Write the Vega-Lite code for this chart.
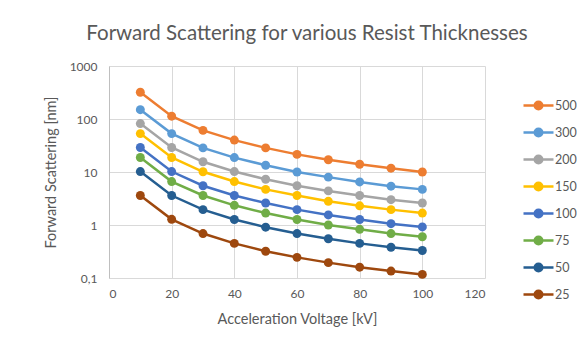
{
  "$schema": "https://vega.github.io/schema/vega-lite/v6.json",
  "autosize": "none",
  "width": 376,
  "height": 212,
  "padding": {"left": 109, "top": 66, "right": 93, "bottom": 65},
  "background": "white",
  "title": {
    "text": "Forward Scattering for various Resist Thicknesses",
    "font": "Lato",
    "fontSize": 20.5,
    "fontWeight": "normal",
    "color": "#595959",
    "anchor": "middle",
    "dx": 10,
    "offset": 16
  },
  "config": {
    "view": {"stroke": null},
    "axis": {
      "labelFont": "Lato",
      "titleFont": "Lato",
      "labelColor": "#595959",
      "titleColor": "#595959",
      "labelFontSize": 12,
      "titleFontSize": 14.5,
      "titleFontWeight": "normal",
      "gridColor": "#d9d9d9",
      "domainColor": "#d9d9d9",
      "tickSize": 0,
      "ticks": false
    },
    "legend": {"labelFont": "Lato", "labelFontSize": 12.5, "labelColor": "#595959"}
  },
  "data": {
    "values": [
      {"kV": 10, "t": "500", "s": 320}, {"kV": 20, "t": "500", "s": 113}, {"kV": 30, "t": "500", "s": 61}, {"kV": 40, "t": "500", "s": 40}, {"kV": 50, "t": "500", "s": 28.5}, {"kV": 60, "t": "500", "s": 21.5}, {"kV": 70, "t": "500", "s": 17}, {"kV": 80, "t": "500", "s": 14}, {"kV": 90, "t": "500", "s": 11.8}, {"kV": 100, "t": "500", "s": 10},
      {"kV": 10, "t": "300", "s": 150}, {"kV": 20, "t": "300", "s": 53}, {"kV": 30, "t": "300", "s": 28.5}, {"kV": 40, "t": "300", "s": 18.7}, {"kV": 50, "t": "300", "s": 13.4}, {"kV": 60, "t": "300", "s": 10}, {"kV": 70, "t": "300", "s": 8}, {"kV": 80, "t": "300", "s": 6.5}, {"kV": 90, "t": "300", "s": 5.4}, {"kV": 100, "t": "300", "s": 4.7},
      {"kV": 10, "t": "200", "s": 82}, {"kV": 20, "t": "200", "s": 29}, {"kV": 30, "t": "200", "s": 15.6}, {"kV": 40, "t": "200", "s": 10.2}, {"kV": 50, "t": "200", "s": 7.3}, {"kV": 60, "t": "200", "s": 5.5}, {"kV": 70, "t": "200", "s": 4.4}, {"kV": 80, "t": "200", "s": 3.6}, {"kV": 90, "t": "200", "s": 3}, {"kV": 100, "t": "200", "s": 2.6},
      {"kV": 10, "t": "150", "s": 53}, {"kV": 20, "t": "150", "s": 18.8}, {"kV": 30, "t": "150", "s": 10.1}, {"kV": 40, "t": "150", "s": 6.6}, {"kV": 50, "t": "150", "s": 4.7}, {"kV": 60, "t": "150", "s": 3.6}, {"kV": 70, "t": "150", "s": 2.8}, {"kV": 80, "t": "150", "s": 2.3}, {"kV": 90, "t": "150", "s": 1.95}, {"kV": 100, "t": "150", "s": 1.68},
      {"kV": 10, "t": "100", "s": 29}, {"kV": 20, "t": "100", "s": 10.2}, {"kV": 30, "t": "100", "s": 5.5}, {"kV": 40, "t": "100", "s": 3.6}, {"kV": 50, "t": "100", "s": 2.6}, {"kV": 60, "t": "100", "s": 1.95}, {"kV": 70, "t": "100", "s": 1.55}, {"kV": 80, "t": "100", "s": 1.27}, {"kV": 90, "t": "100", "s": 1.06}, {"kV": 100, "t": "100", "s": 0.92},
      {"kV": 10, "t": "75", "s": 18.8}, {"kV": 20, "t": "75", "s": 6.6}, {"kV": 30, "t": "75", "s": 3.6}, {"kV": 40, "t": "75", "s": 2.35}, {"kV": 50, "t": "75", "s": 1.68}, {"kV": 60, "t": "75", "s": 1.27}, {"kV": 70, "t": "75", "s": 1}, {"kV": 80, "t": "75", "s": 0.83}, {"kV": 90, "t": "75", "s": 0.69}, {"kV": 100, "t": "75", "s": 0.6},
      {"kV": 10, "t": "50", "s": 10.2}, {"kV": 20, "t": "50", "s": 3.6}, {"kV": 30, "t": "50", "s": 1.95}, {"kV": 40, "t": "50", "s": 1.27}, {"kV": 50, "t": "50", "s": 0.91}, {"kV": 60, "t": "50", "s": 0.69}, {"kV": 70, "t": "50", "s": 0.55}, {"kV": 80, "t": "50", "s": 0.45}, {"kV": 90, "t": "50", "s": 0.38}, {"kV": 100, "t": "50", "s": 0.33},
      {"kV": 10, "t": "25", "s": 3.6}, {"kV": 20, "t": "25", "s": 1.28}, {"kV": 30, "t": "25", "s": 0.69}, {"kV": 40, "t": "25", "s": 0.45}, {"kV": 50, "t": "25", "s": 0.32}, {"kV": 60, "t": "25", "s": 0.245}, {"kV": 70, "t": "25", "s": 0.195}, {"kV": 80, "t": "25", "s": 0.16}, {"kV": 90, "t": "25", "s": 0.135}, {"kV": 100, "t": "25", "s": 0.117}
    ]
  },
  "encoding": {
    "x": {
      "field": "kV", "type": "quantitative",
      "scale": {"domain": [0, 120], "nice": false},
      "axis": {"values": [0, 20, 40, 60, 80, 100, 120], "title": "Acceleration Voltage [kV]", "labelPadding": 10, "titlePadding": 13, "domain": false}
    },
    "y": {
      "field": "s", "type": "quantitative",
      "scale": {"type": "log", "domain": [0.1, 1000], "nice": false},
      "axis": {"values": [0.1, 1, 10, 100, 1000], "labelExpr": "replace(format(datum.value, '~g'), '.', ',')", "title": "Forward Scattering [nm]", "labelPadding": 12, "titlePadding": 11, "domain": true, "domainColor": "#bfbfbf"}
    },
    "color": {
      "field": "t", "type": "nominal",
      "scale": {
        "domain": ["500", "300", "200", "150", "100", "75", "50", "25"],
        "range": ["#ED7D31", "#5B9BD5", "#A5A5A5", "#FFC000", "#4472C4", "#70AD47", "#255E91", "#9E480E"]
      },
      "legend": {
        "title": null,
        "orient": "none",
        "legendX": 423,
        "legendY": 33,
        "rowPadding": 8,
        "symbolSize": 100,
        "labelOffset": 10,
        "encode": {
          "symbols": {
            "update": {
              "shape": {"value": "M-3,0L3,0M-0.75,0A0.75,0.75 0 1,0 0.75,0A0.75,0.75 0 1,0 -0.75,0Z"},
              "size": {"value": 100},
              "stroke": {"scale": "color", "field": "value"},
              "fill": {"scale": "color", "field": "value"},
              "strokeWidth": {"value": 2.5},
              "opacity": {"value": 1}
            }
          }
        }
      }
    }
  },
  "layer": [
    {"mark": {"type": "line", "strokeWidth": 2.5}},
    {"mark": {"type": "point", "filled": true, "size": 80, "opacity": 1}}
  ]
}
